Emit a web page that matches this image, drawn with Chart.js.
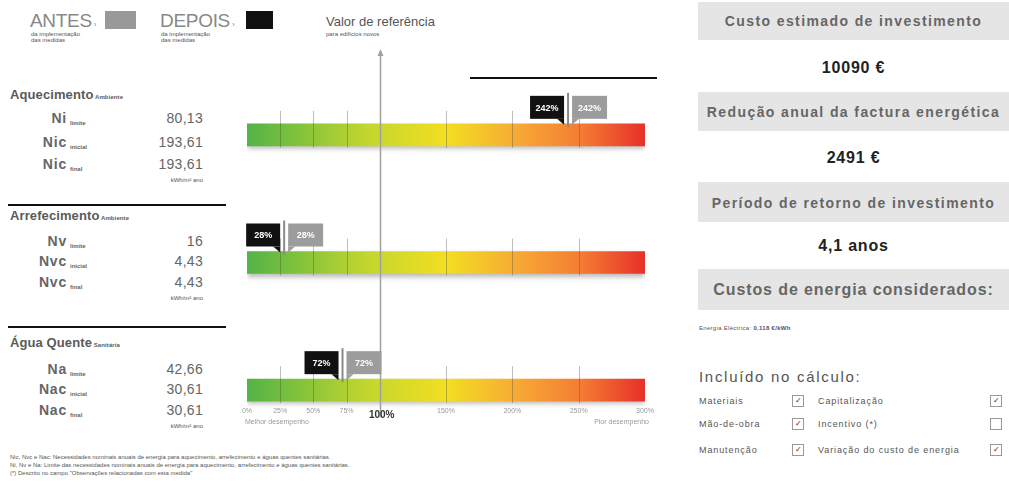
<!DOCTYPE html>
<html lang="pt">
<head>
<meta charset="utf-8">
<script src="https://cdn.jsdelivr.net/npm/chart.js@4.4.1/dist/chart.umd.min.js"></script>
<style>
  body { margin: 0; width: 1009px; height: 491px; background: #fff; position: relative; overflow: hidden;
         font-family: "Liberation Sans", Arial, sans-serif; color: #555; }
  .t { position: absolute; white-space: nowrap; line-height: 1; }
  .box { position: absolute; left: 698px; width: 311px; background: #e5e5e5; }
  .hd { font-weight: bold; font-size: 14px; color: #666; text-align: center; width: 311px; left: 698px; letter-spacing: 1.4px; }
  .val { font-weight: bold; font-size: 16px; color: #222; text-align: center; width: 311px; left: 698px; letter-spacing: 0.8px; }
  .cb { position: absolute; width: 10px; height: 10px; border: 1px solid #999; background: #fff; font-size: 8px; line-height: 10px; text-align: center; color: #333; }
  .lab { font-size: 9px; color: #555; letter-spacing: 0.9px; }
  .sym { font-size: 14px; font-weight: bold; color: #666; text-align: right; width: 40px; left: 27px; letter-spacing: 0.8px; }
  .sub { font-size: 6px; font-weight: bold; color: #666; left: 70px; }
  .num { font-size: 14px; color: #666; text-align: right; width: 80px; left: 123px; letter-spacing: 0.3px; }
  .unit { font-size: 6px; color: #555; text-align: right; width: 80px; left: 123px; }
  .rule { position: absolute; left: 8px; width: 218px; height: 2px; background: #111; }
  .tiny { font-size: 6px; color: #555; }
  #wrap { position: absolute; left: 230px; top: 40px; width: 440px; height: 420px; }
</style>
</head>
<body>

<!-- legend -->
<div class="t" style="left:30px;top:11px;font-size:19px;color:#888;letter-spacing:-0.3px">ANTES<span style="font-size:8px"> ›</span></div>
<div class="t tiny" style="left:31px;top:31px;line-height:6px">da implementação<br>das medidas</div>
<div style="position:absolute;left:105px;top:11px;width:31px;height:18px;background:#999"></div>
<div class="t" style="left:160px;top:11px;font-size:19px;color:#888;letter-spacing:-0.3px">DEPOIS<span style="font-size:8px"> ›</span></div>
<div class="t tiny" style="left:161px;top:31px;line-height:6px">da implementação<br>das medidas</div>
<div style="position:absolute;left:246px;top:11px;width:27px;height:18px;background:#111"></div>

<div class="t" style="left:326px;top:15px;font-size:13px;color:#555">Valor de referência</div>
<div class="t tiny" style="left:326px;top:31px">para edifícios novos</div>
<div style="position:absolute;left:470px;top:77px;width:187px;height:2px;background:#111"></div>

<div id="left"></div>

<div class="t tiny" style="left:10px;top:453px;line-height:8px">
Nic, Nvc e Nac: Necessidades nominais anuais de energia para aquecimento, arrefecimento e águas quentes sanitárias.<br>
Ni, Nv e Na: Limite das necessidades nominais anuais de energia para aquecimento, arrefecimento e águas quentes sanitárias.<br>
(*) Descrito no campo "Observações relacionadas com esta medida"
</div>

<div id="wrap"><canvas id="scaleChart"></canvas></div>

<!-- right panel -->
<div class="box" style="top:2px;height:38px"></div>
<div class="t hd" style="top:14px">Custo estimado de investimento</div>
<div class="t val" style="top:60px">10090 €</div>
<div class="box" style="top:92px;height:39px"></div>
<div class="t hd" style="top:105px">Redução anual da factura energética</div>
<div class="t val" style="top:150px">2491 €</div>
<div class="box" style="top:182px;height:40px"></div>
<div class="t hd" style="top:196px">Período de retorno de investimento</div>
<div class="t val" style="top:238px">4,1 anos</div>
<div class="box" style="top:269px;height:41px"></div>
<div class="t hd" style="top:282px;font-size:16px;letter-spacing:0.9px">Custos de energia considerados:</div>
<div class="t tiny" style="left:699px;top:325px;letter-spacing:0.3px">Energia Eléctrica: <b>0,118 €/kWh</b></div>
<div class="t" style="left:699px;top:369px;font-size:15px;color:#555;letter-spacing:1.7px">Incluído no cálculo:</div>
<div id="checks"></div>

<script>
// three energy uses shown on the scale
const categories = ['Aquecimento', 'Arrefecimento', 'Água Quente'];
const categoryNotes = ['Ambiente', 'Ambiente', 'Sanitária'];
const rowSymbols = [['Ni', 'Nic', 'Nic'], ['Nv', 'Nvc', 'Nvc'], ['Na', 'Nac', 'Nac']];
const rowSubs = ['limite', 'inicial', 'final'];
const limitValues = [80.13, 16, 42.66];
const initialValues = [193.61, 4.43, 30.61];
const finalValues = [193.61, 4.43, 30.61];

// position on the scale, % of the reference value
const antesPct = [242, 28, 72];
const depoisPct = [242, 28, 72];
const scaleTicks = [0, 25, 50, 75, 100, 150, 200, 250, 300];
const referenceValue = 100;

const checkLeft = ['Materiais', 'Mão-de-obra', 'Manutenção'];
const checkLeftOn = [true, true, true];
const checkRight = ['Capitalização', 'Incentivo (*)', 'Variação do custo de energia'];
const checkRightOn = [true, false, true];

// left text panel
const fmt = v => v.toFixed(2).replace('.', ',').replace(/,00$/, '');
const sectionTops = [88, 209, 336];
const rowOffsets = [[23, 47, 69], [25, 45, 66], [26, 46, 67]];
let html = '';
categories.forEach((c, i) => {
    const top = sectionTops[i];
    html += `<div class="t" style="left:10px;top:${top}px;font-size:13px;font-weight:bold;color:#5a5a5a;letter-spacing:0.1px">${c}<span style="font-size:6px;font-weight:bold"> ${categoryNotes[i]}</span></div>`;
    const vals = [limitValues[i], initialValues[i], finalValues[i]];
    rowSymbols[i].forEach((s, j) => {
        const y = top + rowOffsets[i][j];
        html += `<div class="t sym" style="top:${y}px">${s}</div>`;
        html += `<div class="t sub" style="top:${y + 9}px">${rowSubs[j]}</div>`;
        html += `<div class="t num" style="top:${y}px">${fmt(vals[j])}</div>`;
    });
    html += `<div class="t unit" style="top:${top + rowOffsets[i][2] + 20}px">kWh/m² ano</div>`;
    if (i < 2) html += `<div class="rule" style="top:${[204, 326][i]}px"></div>`;
});
document.getElementById('left').innerHTML = html;

// checkboxes on the right
const rowY = [397, 420, 446];
let ch = '';
rowY.forEach((y, i) => {
    ch += `<div class="t lab" style="left:699px;top:${y}px">${checkLeft[i]}</div>`;
    ch += `<div class="cb" style="left:792px;top:${y - 2}px">${checkLeftOn[i] ? '✓' : ''}</div>`;
    ch += `<div class="t lab" style="left:818px;top:${y}px">${checkRight[i]}</div>`;
    ch += `<div class="cb" style="left:990px;top:${y - 2}px">${checkRightOn[i] ? '✓' : ''}</div>`;
});
document.getElementById('checks').innerHTML = ch;

const BAR_H = 22;

function drawTag(ctx, x, top, w, h, fill, text, tailLeft) {
    ctx.fillStyle = fill;
    ctx.fillRect(x, top, w, h);
    ctx.beginPath();
    if (tailLeft) {
        ctx.moveTo(x, top + h); ctx.lineTo(x + 7, top + h); ctx.lineTo(x, top + h + 6);
    } else {
        ctx.moveTo(x + w - 7, top + h); ctx.lineTo(x + w, top + h); ctx.lineTo(x + w, top + h + 6);
    }
    ctx.fill();
    ctx.fillStyle = '#fff';
    ctx.font = 'bold 9px "Liberation Sans", Arial';
    ctx.textAlign = 'center';
    ctx.textBaseline = 'middle';
    ctx.fillText(text, x + w / 2, top + h / 2 + 1);
}

const scaleDecor = {
    id: 'scaleDecor',
    beforeDatasetsDraw(chart) {
        const ctx = chart.ctx;
        ctx.save();
        ctx.shadowColor = 'rgba(0,0,0,0.28)';
        ctx.shadowBlur = 5;
        ctx.shadowOffsetY = 3;
    },
    afterDatasetsDraw(chart) {
        const ctx = chart.ctx;
        ctx.restore();
        const x = chart.scales.x;
        const bars = chart.getDatasetMeta(0).data;

        // tick marks across each bar
        ctx.save();
        ctx.strokeStyle = 'rgba(70,70,70,0.35)';
        ctx.lineWidth = 1;
        bars.forEach(b => {
            const top = b.y - BAR_H / 2, bot = b.y + BAR_H / 2;
            scaleTicks.forEach(t => {
                if (t === 0 || t === 300 || t === referenceValue) return;
                const px = Math.round(x.getPixelForValue(t)) + 0.5;
                ctx.beginPath();
                ctx.moveTo(px, top - 13);
                ctx.lineTo(px, bot + 2);
                ctx.stroke();
            });
        });

        // reference line with arrow
        const rx = Math.round(x.getPixelForValue(referenceValue)) + 0.5;
        const last = bars[bars.length - 1];
        ctx.strokeStyle = '#a0a0a0';
        ctx.lineWidth = 1.5;
        ctx.beginPath();
        ctx.moveTo(rx, 12);
        ctx.lineTo(rx, last.y + BAR_H / 2 + 16);
        ctx.stroke();
        ctx.fillStyle = '#a0a0a0';
        ctx.beginPath();
        ctx.moveTo(rx - 3, 16); ctx.lineTo(rx, 9); ctx.lineTo(rx + 3, 16);
        ctx.fill();

        // tick labels under the last bar
        const ly = last.y + BAR_H / 2 + 10;
        ctx.textAlign = 'center';
        ctx.textBaseline = 'middle';
        scaleTicks.forEach(t => {
            const px = x.getPixelForValue(t);
            if (t === referenceValue) {
                ctx.font = 'bold 10px "Liberation Sans", Arial';
                ctx.fillStyle = '#333';
                ctx.fillText(t + '%', px + 2, ly + 4);
            } else {
                ctx.font = '7px "Liberation Sans", Arial';
                ctx.fillStyle = '#999';
                ctx.fillText(t + '%', px, ly);
            }
        });
        ctx.font = '7px "Liberation Sans", Arial';
        ctx.fillStyle = '#999';
        ctx.textAlign = 'left';
        ctx.fillText('Melhor desempenho', x.getPixelForValue(0) - 2, ly + 11);
        ctx.textAlign = 'right';
        ctx.fillText('Pior desempenho', x.getPixelForValue(300) + 4, ly + 11);

        // before / after markers
        bars.forEach((b, i) => {
            const top = b.y - BAR_H / 2;
            const pa = x.getPixelForValue(antesPct[i]);
            const pd = x.getPixelForValue(depoisPct[i]);
            const tagTop = top - 28;
            drawTag(ctx, pa + 4, tagTop, 35, 23, '#9c9c9c', antesPct[i] + '%', true);
            drawTag(ctx, pd - 38, tagTop, 34, 23, '#111', depoisPct[i] + '%', false);
            ctx.strokeStyle = '#8a8a8a';
            ctx.lineWidth = 2;
            ctx.beginPath();
            ctx.moveTo(pd, tagTop - 3);
            ctx.lineTo(pd, top + 3);
            ctx.stroke();
        });
        ctx.restore();
    }
};

new Chart(document.getElementById('scaleChart'), {
    type: 'bar',
    data: {
        labels: categories,
        datasets: [{
            data: categories.map(() => [scaleTicks[0], scaleTicks[scaleTicks.length - 1]]),
            barThickness: BAR_H,
            borderSkipped: false,
            backgroundColor: function (context) {
                const area = context.chart.chartArea;
                if (!area) return '#8c3';
                const g = context.chart.ctx.createLinearGradient(area.left, 0, area.right, 0);
                g.addColorStop(0, '#52b346');
                g.addColorStop(0.3, '#c2d62e');
                g.addColorStop(0.5, '#f2df22');
                g.addColorStop(0.68, '#f7a935');
                g.addColorStop(0.84, '#f47c33');
                g.addColorStop(1, '#e7302a');
                return g;
            }
        }]
    },
    options: {
        indexAxis: 'y',
        responsive: true,
        maintainAspectRatio: false,
        animation: false,
        layout: { padding: { left: 17, right: 25, top: 31, bottom: 6 } },
        plugins: { legend: { display: false }, tooltip: { enabled: false } },
        scales: {
            x: { type: 'linear', min: 0, max: 300, display: false },
            y: { display: false }
        }
    },
    plugins: [scaleDecor]
});
</script>
</body>
</html>
